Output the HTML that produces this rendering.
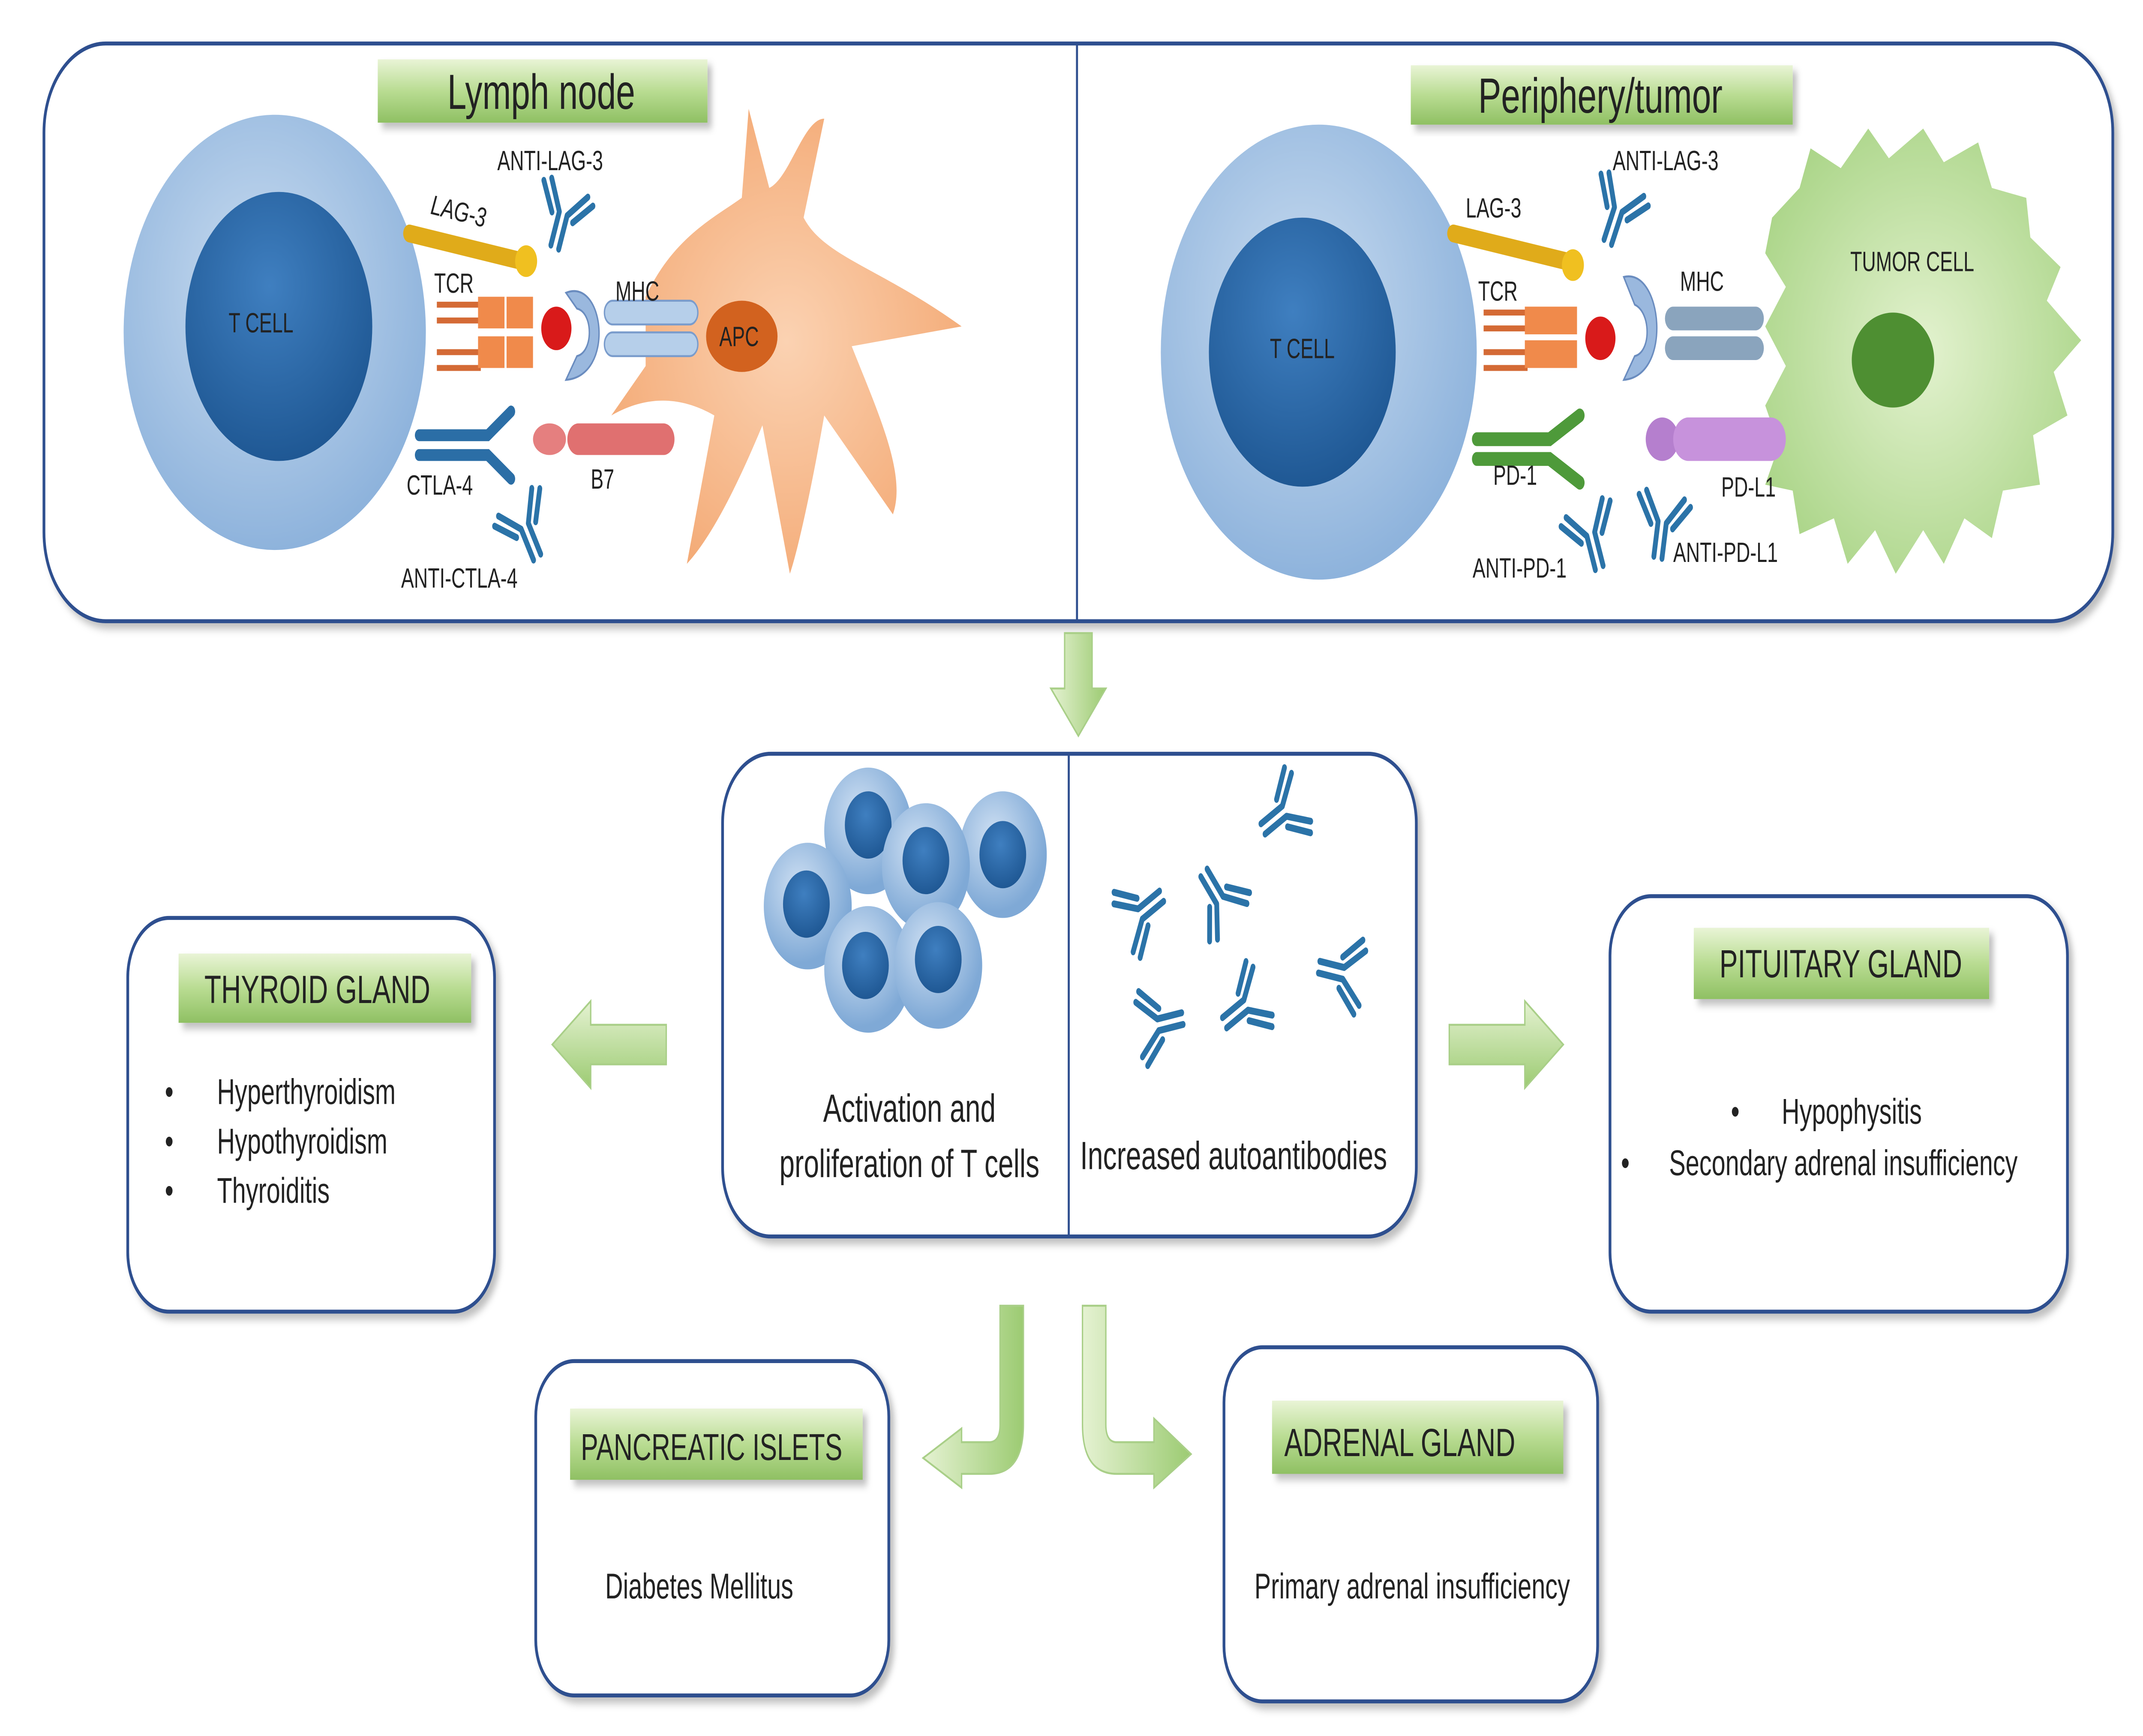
<!DOCTYPE html>
<html><head><meta charset="utf-8"><style>
html,body{margin:0;padding:0;background:#fff;overflow:hidden;width:100%;height:100%;}
svg{display:block;width:100vw;height:100vh;}
text{font-family:"Liberation Sans","DejaVu Sans",sans-serif;fill:#222;}
</style></head><body>
<svg viewBox="0 0 1560 877.5" preserveAspectRatio="none" xmlns="http://www.w3.org/2000/svg">
<defs>
<linearGradient id="lab" x1="0" y1="0" x2="0" y2="1">
<stop offset="0" stop-color="#e9f4d6"/><stop offset="0.5" stop-color="#b9dc92"/><stop offset="1" stop-color="#8fc063"/></linearGradient>
<linearGradient id="arr" x1="0" y1="0" x2="0" y2="1">
<stop offset="0" stop-color="#e5f2d2"/><stop offset="1" stop-color="#9ccb72"/></linearGradient>
<linearGradient id="arrv" x1="0" y1="0" x2="1" y2="0">
<stop offset="0" stop-color="#e5f2d2"/><stop offset="1" stop-color="#9ccb72"/></linearGradient>
<radialGradient id="outer" cx="0.45" cy="0.4" r="0.6">
<stop offset="0" stop-color="#c9dcf0"/><stop offset="1" stop-color="#8eb3dc"/></radialGradient>
<radialGradient id="inner" cx="0.45" cy="0.35" r="0.65">
<stop offset="0" stop-color="#3f7fc0"/><stop offset="1" stop-color="#1f5894"/></radialGradient>
<radialGradient id="apc" cx="0.5" cy="0.5" r="0.6">
<stop offset="0" stop-color="#fbd2b2"/><stop offset="1" stop-color="#f3a771"/></radialGradient>
<radialGradient id="tum" cx="0.5" cy="0.5" r="0.6">
<stop offset="0" stop-color="#e3f2cf"/><stop offset="1" stop-color="#a9d486"/></radialGradient>
<radialGradient id="bead" cx="0.4" cy="0.35" r="0.6">
<stop offset="0" stop-color="#cfe0f3"/><stop offset="1" stop-color="#7fa9d6"/></radialGradient>
<g id="ab" fill="none" stroke="#2b73a8" stroke-width="3.5" stroke-linecap="round">
<path d="M-3,0 V18 M3,0 V18 M-3,0 L-14,-14 M-8,2 L-19,-11 M3,0 L14,-14 M8,2 L19,-11"/>
</g>
<filter id="sh" x="-10%" y="-10%" width="130%" height="130%"><feDropShadow dx="3" dy="3" stdDeviation="2" flood-color="#000" flood-opacity="0.25"/></filter>
</defs>

<rect x="32" y="22" width="1506" height="292" rx="45" fill="#fff" stroke="#2f4f8f" stroke-width="2" filter="url(#sh)"/>
<line x1="784" y1="22" x2="784" y2="314" stroke="#2f4f8f" stroke-width="1.5"/>
<rect x="275" y="30" width="240" height="32" fill="url(#lab)" filter="url(#sh)"/>
<text x="394" y="55" font-size="25" text-anchor="middle">Lymph node</text>
<rect x="1027" y="33" width="278" height="30" fill="url(#lab)" filter="url(#sh)"/>
<text x="1165" y="57" font-size="25" text-anchor="middle">Periphery/tumor</text>

<circle cx="200" cy="168" r="110" fill="url(#outer)"/>
<circle cx="203" cy="165" r="68" fill="url(#inner)"/>
<text x="190" y="168" font-size="14" text-anchor="middle">T CELL</text>
<path d="M470,150 C490,120 520,110 540,100 L545,55 L560,95 C575,90 585,60 600,60 L585,110 C600,130 640,135 700,165 L620,175 C640,210 660,240 650,260 L600,210 C590,250 580,280 575,290 L555,215 C540,240 520,270 500,285 L520,210 C495,200 470,200 445,210 L470,185 Z" fill="url(#apc)"/>
<ellipse cx="540" cy="170" rx="26" ry="18" fill="#d2621f"/>
<text x="538" y="175" font-size="14" text-anchor="middle">APC</text>
<line x1="298" y1="118" x2="380" y2="132" stroke="#e0ab1a" stroke-width="9" stroke-linecap="round"/>
<circle cx="383" cy="132" r="8" fill="#f0c020"/>
<text x="313" y="108" font-size="14" font-style="italic" transform="rotate(10 313 108)">LAG-3</text>
<path d="M318,154 H350 M318,162 H350 M318,178 H350 M318,186 H350" stroke="#d46a35" stroke-width="3"/>
<rect x="348" y="150" width="40" height="16" fill="#f08a4b"/>
<rect x="348" y="170" width="40" height="16" fill="#f08a4b"/>
<line x1="368" y1="150" x2="368" y2="186" stroke="#fff" stroke-width="1.5"/>
<text x="316" y="148" font-size="14">TCR</text>
<circle cx="405" cy="166" r="11" fill="#d91a1a"/>
<path d="M412,148 C440,140 448,190 412,192 L420,180 C432,178 432,158 420,156 Z" fill="#9ab8de" stroke="#6a8cbf"/>
<rect x="440" y="152" width="68" height="12" rx="6" fill="#b6cfea" stroke="#7a9ccc"/>
<rect x="440" y="168" width="68" height="12" rx="6" fill="#b6cfea" stroke="#7a9ccc"/>
<text x="448" y="152" font-size="14">MHC</text>
<path d="M305,220 H355 L372,208 M305,230 H355 L372,242" stroke="#2b6ea6" stroke-width="6" fill="none" stroke-linecap="round"/>
<text x="296" y="250" font-size="14">CTLA-4</text>
<ellipse cx="400" cy="222" rx="12" ry="8" fill="#e57f7f"/>
<rect x="413" y="214" width="78" height="16" rx="8" fill="#e07070"/>
<text x="430" y="247" font-size="14">B7</text>
<use href="#ab" transform="translate(410,108) rotate(20)"/>
<text x="362" y="86" font-size="14">ANTI-LAG-3</text>
<use href="#ab" transform="translate(382,266) rotate(-30)"/>
<text x="292" y="297" font-size="14">ANTI-CTLA-4</text>

<circle cx="960" cy="178" r="115" fill="url(#outer)"/>
<circle cx="948" cy="178" r="68" fill="url(#inner)"/>
<text x="948" y="181" font-size="14" text-anchor="middle">T CELL</text>
<path d="M1290,110 L1310,95 L1318,75 L1340,85 L1360,65 L1375,80 L1400,65 L1415,82 L1440,72 L1450,95 L1475,100 L1478,120 L1500,135 L1490,152 L1515,172 L1495,188 L1505,210 L1480,220 L1485,245 L1458,248 L1450,272 L1430,262 L1415,285 L1400,268 L1380,290 L1365,268 L1345,285 L1335,262 L1310,270 L1305,248 L1285,245 L1295,225 L1285,205 L1300,185 L1285,165 L1300,145 L1285,128 Z" fill="url(#tum)"/>
<ellipse cx="1378" cy="182" rx="30" ry="24" fill="#4e8f32"/>
<text x="1392" y="137" font-size="14" text-anchor="middle">TUMOR CELL</text>
<line x1="1058" y1="118" x2="1140" y2="132" stroke="#e0ab1a" stroke-width="9" stroke-linecap="round"/>
<circle cx="1145" cy="134" r="8" fill="#f0c020"/>
<text x="1067" y="110" font-size="14">LAG-3</text>
<path d="M1080,158 H1112 M1080,166 H1112 M1080,178 H1112 M1080,186 H1112" stroke="#d46a35" stroke-width="3"/>
<rect x="1110" y="155" width="38" height="14" fill="#f08a4b"/>
<rect x="1110" y="172" width="38" height="14" fill="#f08a4b"/>
<text x="1076" y="152" font-size="14">TCR</text>
<circle cx="1165" cy="171" r="11" fill="#d91a1a"/>
<path d="M1182,140 C1210,135 1218,190 1182,192 L1190,180 C1202,178 1202,158 1190,154 Z" fill="#9ab8de" stroke="#6a8cbf"/>
<rect x="1212" y="155" width="72" height="12" rx="6" fill="#8aa4bd"/>
<rect x="1212" y="170" width="72" height="12" rx="6" fill="#8aa4bd"/>
<text x="1223" y="147" font-size="14">MHC</text>
<path d="M1075,222 H1128 L1150,210 M1075,232 H1128 L1150,244" stroke="#4e9a3a" stroke-width="7" fill="none" stroke-linecap="round"/>
<text x="1087" y="245" font-size="14">PD-1</text>
<ellipse cx="1210" cy="222" rx="12" ry="11" fill="#b57fce"/>
<rect x="1218" y="211" width="82" height="22" rx="11" fill="#c792dc"/>
<text x="1253" y="251" font-size="14">PD-L1</text>
<use href="#ab" transform="translate(1178,106) rotate(25)"/>
<text x="1174" y="86" font-size="14">ANTI-LAG-3</text>
<use href="#ab" transform="translate(1158,270) rotate(-20)"/>
<text x="1072" y="292" font-size="14">ANTI-PD-1</text>
<use href="#ab" transform="translate(1210,264) rotate(10)"/>
<text x="1218" y="284" font-size="14">ANTI-PD-L1</text>

<path d="M775,320 H795 V348 H805 L785,372 L765,348 H775 Z" fill="url(#arrv)" stroke="#a9cf88"/>

<rect x="526" y="381" width="505" height="244" rx="35" fill="#fff" stroke="#2f4f8f" stroke-width="2" filter="url(#sh)"/>
<line x1="778" y1="381" x2="778" y2="625" stroke="#2f4f8f" stroke-width="1.5"/>
<g>
<circle cx="632" cy="420" r="32" fill="url(#bead)"/><circle cx="632" cy="417" r="17" fill="url(#inner)"/>
<circle cx="730" cy="432" r="32" fill="url(#bead)"/><circle cx="730" cy="432" r="17" fill="url(#inner)"/>
<circle cx="588" cy="458" r="32" fill="url(#bead)"/><circle cx="587" cy="457" r="17" fill="url(#inner)"/>
<circle cx="674" cy="438" r="32" fill="url(#bead)"/><circle cx="674" cy="435" r="17" fill="url(#inner)"/>
<circle cx="632" cy="490" r="32" fill="url(#bead)"/><circle cx="630" cy="488" r="17" fill="url(#inner)"/>
<circle cx="683" cy="488" r="32" fill="url(#bead)"/><circle cx="683" cy="485" r="17" fill="url(#inner)"/>
</g>
<text x="662" y="567" font-size="20" text-anchor="middle">Activation and</text>
<text x="662" y="595" font-size="20" text-anchor="middle">proliferation of T cells</text>
<use href="#ab" transform="translate(935,410) rotate(60)"/>
<use href="#ab" transform="translate(830,462) rotate(-120)"/>
<use href="#ab" transform="translate(888,455) rotate(140)"/>
<use href="#ab" transform="translate(978,492) rotate(100)"/>
<use href="#ab" transform="translate(843,518) rotate(-100)"/>
<use href="#ab" transform="translate(907,508) rotate(60)"/>
<text x="898" y="591" font-size="20" text-anchor="middle">Increased autoantibodies</text>

<path d="M485,518 V538 H430 V550 L402,528 L430,506 V518 Z" fill="url(#arr)" stroke="#a9cf88"/>
<path d="M1055,518 V538 H1110 V550 L1138,528 L1110,506 V518 Z" fill="url(#arr)" stroke="#a9cf88"/>

<rect x="93" y="464" width="267" height="199" rx="30" fill="#fff" stroke="#2f4f8f" stroke-width="2" filter="url(#sh)"/>
<rect x="130" y="482" width="213" height="35" fill="url(#lab)" filter="url(#sh)"/>
<text x="231" y="507" font-size="20" text-anchor="middle">THYROID GLAND</text>
<g font-size="18"><text x="120" y="558">•</text><text x="158" y="558">Hyperthyroidism</text>
<text x="120" y="583">•</text><text x="158" y="583">Hypothyroidism</text>
<text x="120" y="608">•</text><text x="158" y="608">Thyroiditis</text></g>

<rect x="1172" y="453" width="333" height="210" rx="30" fill="#fff" stroke="#2f4f8f" stroke-width="2" filter="url(#sh)"/>
<rect x="1233" y="469" width="215" height="36" fill="url(#lab)" filter="url(#sh)"/>
<text x="1340" y="494" font-size="20" text-anchor="middle">PITUITARY GLAND</text>
<g font-size="18"><text x="1260" y="568">•</text><text x="1297" y="568">Hypophysitis</text>
<text x="1180" y="594">•</text><text x="1215" y="594">Secondary adrenal insufficiency</text></g>

<path d="M728,660 H745 V720 Q745,745 720,745 H700 V752 L672,737 L700,722 V729 H720 Q728,729 728,720 Z" fill="url(#arrv)" stroke="#a9cf88"/>
<path d="M788,660 H805 V720 Q805,729 813,729 H840 V717 L867,735 L840,752 V745 H813 Q788,745 788,720 Z" fill="url(#arrv)" stroke="#a9cf88"/>

<rect x="390" y="688" width="257" height="169" rx="28" fill="#fff" stroke="#2f4f8f" stroke-width="2" filter="url(#sh)"/>
<rect x="415" y="712" width="213" height="36" fill="url(#lab)" filter="url(#sh)"/>
<text x="518" y="738" font-size="19" text-anchor="middle">PANCREATIC ISLETS</text>
<text x="509" y="808" font-size="18" text-anchor="middle">Diabetes Mellitus</text>

<rect x="891" y="681" width="272" height="179" rx="28" fill="#fff" stroke="#2f4f8f" stroke-width="2" filter="url(#sh)"/>
<rect x="926" y="708" width="212" height="37" fill="url(#lab)" filter="url(#sh)"/>
<text x="1019" y="736" font-size="20" text-anchor="middle">ADRENAL GLAND</text>
<text x="1028" y="808" font-size="18" text-anchor="middle">Primary adrenal insufficiency</text>
</svg>
</body></html>
